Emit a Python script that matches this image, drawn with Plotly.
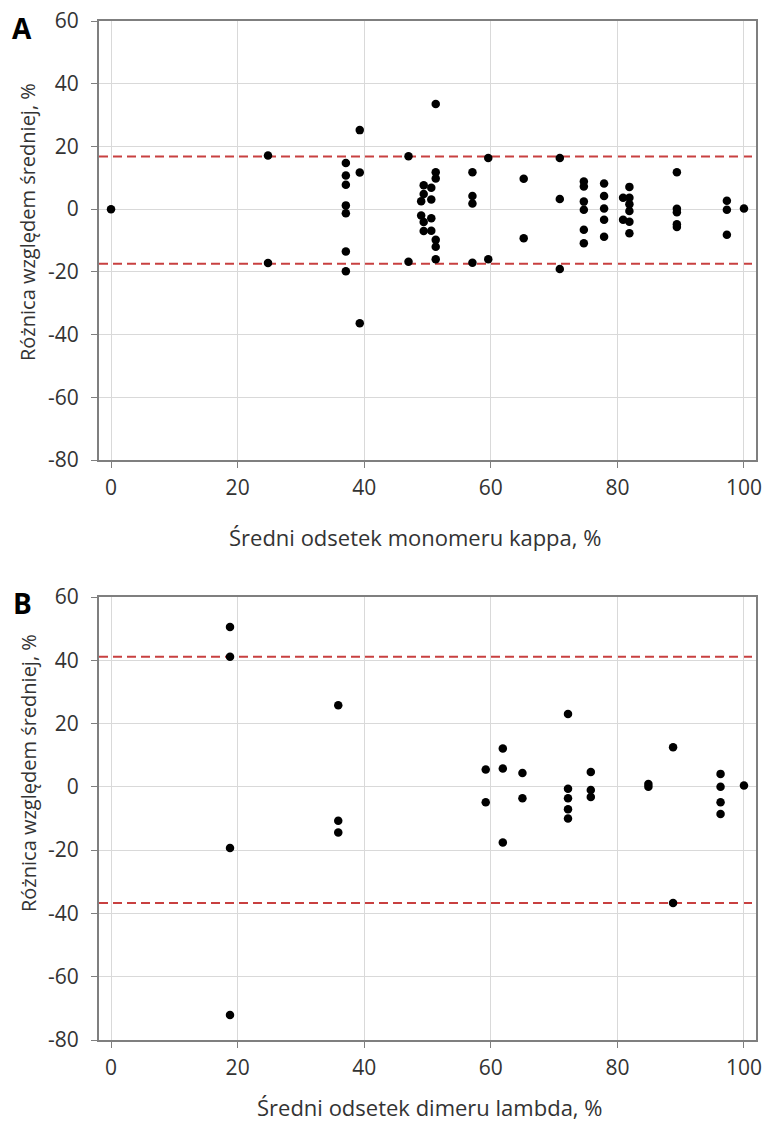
import plotly.graph_objects as go

# ---------------- data ----------------
kappa_x = [0,
           24.8, 24.8,
           37.1, 37.1, 37.1, 37.1, 37.1, 37.1, 37.1,
           39.3, 39.3, 39.3,
           47.0, 47.0,
           49.0, 49.0,
           49.4, 49.4, 49.4, 49.4,
           50.6, 50.6, 50.6, 50.6,
           51.3, 51.3, 51.3, 51.3, 51.3, 51.3,
           57.1, 57.1, 57.1, 57.1,
           59.6, 59.6,
           65.2, 65.2,
           70.9, 70.9, 70.9,
           74.7, 74.7, 74.7, 74.7, 74.7, 74.7,
           77.9, 77.9, 77.9, 77.9, 77.9,
           80.9, 80.9,
           81.9, 81.9, 81.9, 81.9, 81.9, 81.9,
           89.4, 89.4, 89.4, 89.4, 89.4,
           97.3, 97.3, 97.3,
           100]
kappa_y = [0,
           17.1, -17.2,
           14.7, 10.7, 7.8, 1.2, -1.3, -13.5, -19.8,
           25.2, 11.7, -36.4,
           16.9, -16.8,
           2.5, -2.0,
           7.6, 4.8, -4.1, -7.0,
           6.8, 3.1, -2.9, -6.9,
           33.5, 11.8, 9.8, -9.8, -12.0, -16.0,
           11.8, 4.2, 1.8, -17.1,
           16.3, -16.0,
           9.7, -9.3,
           16.3, 3.2, -19.1,
           8.8, 7.2, 2.4, -0.2, -6.6, -10.9,
           8.2, 4.2, 0.2, -3.4, -8.8,
           3.6, -3.4,
           7.1, 3.6, 1.6, -0.6, -4.0, -7.7,
           11.8, 0.1, -1.0, -4.8, -5.7,
           2.7, -0.2, -8.2,
           0.2]
kappa_limits = [16.8, -17.4]

lambda_x = [18.8, 18.8, 18.8, 18.8,
            35.9, 35.9, 35.9,
            59.2, 59.2,
            61.9, 61.9, 61.9,
            65.0, 65.0,
            72.2, 72.2, 72.2, 72.2, 72.2,
            75.8, 75.8, 75.8,
            84.9, 84.9,
            88.8, 88.8,
            96.3, 96.3, 96.3, 96.3,
            100]
lambda_y = [50.5, 41.1, -19.3, -72.1,
            25.8, -10.7, -14.4,
            5.5, -4.9,
            12.1, 5.8, -17.6,
            4.4, -3.6,
            23.0, -0.6, -3.6, -7.1, -10.0,
            4.7, -1.0, -3.2,
            0.9, 0.0,
            12.5, -36.7,
            4.1, 0.0, -4.9, -8.6,
            0.4]
lambda_limits = [41.1, -36.7]

x_ticks = [0, 20, 40, 60, 80, 100]
y_ticks = [60, 40, 20, 0, -20, -40, -60, -80]
y_ticktext = [str(v) for v in y_ticks]

x_title_a = "Średni odsetek monomeru kappa, %"
x_title_b = "Średni odsetek dimeru lambda, %"
y_title = "Różnica względem średniej, %"

# ---------------- layout ----------------
W, H = 764, 1124
FONT = "Open Sans"
TXT = "#333333"
AXC = "#7F7F7F"
GRID = "#D9D9D9"
RED = "#C84040"

fig = go.Figure()

fig.add_trace(go.Scatter(x=kappa_x, y=kappa_y, mode="markers",
                         marker=dict(color="black", size=8.5),
                         xaxis="x", yaxis="y", showlegend=False))
fig.add_trace(go.Scatter(x=lambda_x, y=lambda_y, mode="markers",
                         marker=dict(color="black", size=8.5),
                         xaxis="x2", yaxis="y2", showlegend=False))

for v in kappa_limits:
    fig.add_shape(type="line", xref="x domain", yref="y", x0=0, x1=1, y0=v, y1=v,
                  line=dict(color=RED, width=2, dash="9px,5px"), layer="below")
for v in lambda_limits:
    fig.add_shape(type="line", xref="x2 domain", yref="y2", x0=0, x1=1, y0=v, y1=v,
                  line=dict(color=RED, width=2, dash="9px,5px"), layer="below")

left, right = 99, 756
a_top, a_bot = 21, 460
b_top, b_bot = 597, 1040

def yd(top, bot):
    return [1 - bot / H, 1 - top / H]

xaxis_common = dict(range=[-1.9, 101.9], tickvals=x_ticks, showgrid=True, gridcolor=GRID,
                    gridwidth=1, zeroline=False, showline=True, linecolor=AXC, linewidth=2,
                    mirror=True, ticks="outside", ticklen=6, tickcolor=AXC, tickwidth=1,
                    tickfont=dict(family=FONT, size=21, color=TXT), ticklabelstandoff=2,
                    ticklabeloverflow="allow",
                    domain=[left / W, right / W])
yaxis_common = dict(range=[-80, 60], tickvals=y_ticks, ticktext=y_ticktext, showgrid=True,
                    gridcolor=GRID, gridwidth=1, zeroline=False, showline=True, linecolor=AXC,
                    linewidth=2, mirror=True, ticks="outside", ticklen=6, tickcolor=AXC,
                    tickwidth=1, tickfont=dict(family=FONT, size=21, color=TXT),
                    ticklabelstandoff=8, ticklabeloverflow="allow")

fig.update_layout(
    width=W, height=H,
    margin=dict(l=0, r=0, t=0, b=0, autoexpand=False),
    paper_bgcolor="white", plot_bgcolor="white",
    xaxis=dict(**xaxis_common, anchor="y"),
    yaxis=dict(**yaxis_common, domain=yd(a_top, a_bot), anchor="x"),
    xaxis2=dict(**xaxis_common, anchor="y2"),
    yaxis2=dict(**yaxis_common, domain=yd(b_top, b_bot), anchor="x2"),
)

def ann(text, px, py, size, bold=False, angle=0):
    fig.add_annotation(text=f"<b>{text}</b>" if bold else text,
                       x=px / W, y=1 - py / H, xref="paper", yref="paper",
                       showarrow=False, textangle=angle,
                       font=dict(family=FONT, size=size, color="black" if bold else TXT),
                       xanchor="center", yanchor="middle")

ann("A", 22, 28, 28, bold=True)
ann("B", 22, 603, 28, bold=True)
ann(y_title, 28, 222, 20, angle=-90)
ann(y_title, 28, 773, 20, angle=-90)
ann(x_title_a, 415, 537, 22)
ann(x_title_b, 430, 1107, 22)

fig.write_html("out.html",
               config={"displayModeBar": False},
               post_script="document.body.style.margin='0';document.body.style.padding='0';")
